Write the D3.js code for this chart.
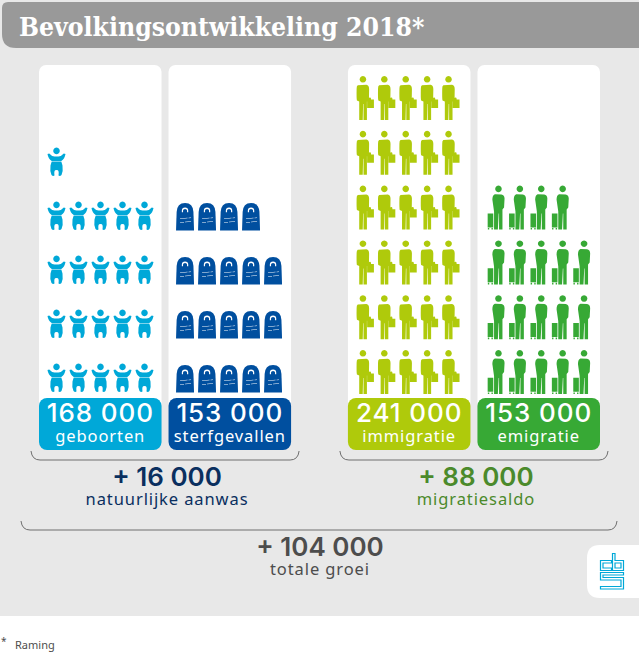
<!DOCTYPE html>
<html>
<head>
<meta charset="utf-8">
<script src="https://cdn.jsdelivr.net/npm/d3@7"></script>
<style>
	html, body { margin: 0; padding: 0; background: #fff; }
	svg { display: block; }
	text { font-family: "Noto Sans", sans-serif; text-anchor: middle; }
	.num { font-family: Inter, sans-serif; }
	.name { font-size: 16.5px; letter-spacing: 0.9px; }
</style>
</head>
<body>
<svg id="chart"></svg>
<script>
const width = 639;
const height = 655;

const titleText = 'Bevolkingsontwikkeling 2018*';
const footnote = 'Raming';

const categories = ['geboorten', 'sterfgevallen', 'immigratie', 'emigratie'];
const categoryGroups = ['natuurlijke aanwas', 'natuurlijke aanwas', 'migratiesaldo', 'migratiesaldo'];
const values = [168000, 153000, 241000, 153000];
const valueLabels = ['168 000', '153 000', '241 000', '153 000'];
const groups = ['natuurlijke aanwas', 'migratiesaldo'];
const groupLabels = ['+ 16 000', '+ 88 000'];
const totalLabel = '+ 104 000';
const totalName = 'totale groei';
const personsPerIcon = 8000;
const iconsPerRow = 5;

const colors = ['#00a8d8', '#004f9f', '#afca0b', '#37a935'];
const groupColors = ['#0a2f5f', '#4b8a2b'];

// icon shapes, drawn around the horizontal middle with y=0 on top
const babyIcon = 'M0,0.6a3.3,3.3 0 1,0 0.01,0Z'
	+ 'M-9,7L-7.3,6.6Q-5,9.3 -2,9.6L2,9.6Q5,9.3 7.3,6.6L9,7Q8.2,12 4.8,13.9L-4.8,13.9Q-8.2,12 -9,7Z'
	+ 'M-4.8,14.6L4.8,14.6L6,18.5Q6.8,24 5,28Q3.6,29.4 2,28.6Q2.6,24 1.4,23.2Q0,22.6 -1.4,23.2Q-2.6,24 -2,28.6Q-3.6,29.4 -5,28Q-6.8,24 -6,18.5Z';
const graveIcon = 'M-9,27.5L-8.4,9Q-8,0 0,0Q8,0 8.4,9L9,27.5Z';
const graveMarks = 'M-3.2,9.2V7.5Q-3.2,4.6 0,4.6Q3.2,4.6 3.2,7.5V9.2H2V7.6Q2,5.9 0,5.9Q-2,5.9 -2,7.6V9.2Z'
	+ 'M-5,15.6L2.5,14.8V15.3L-5,16.1Z M3.5,14.7L6,14.4V14.9L3.5,15.2Z'
	+ 'M-5,19.3L-1,18.9V19.4L-5,19.8Z M0,18.8L6,18.2V18.7L0,19.3Z';
const workerIcon = 'M0,0a3.3,3.3 0 1,0 0.01,0Z'
	+ 'M-5.2,9.3L3.5,8.8Q6.1,9.4 6.2,13L6,25L4,25.5V44H0.6V28H0.2L-0.2,44H-3.7V25.5L-6,24.5Q-6.5,23 -6.3,13Q-6.4,10 -5.2,9.3Z'
	+ 'M4.6,23.6H5.9V22.8Q5.9,21.4 7,21.4Q8.1,21.4 8.1,22.8V23.6H11V32H4.2V25.5Z';
const migrantIcon = 'M0,0a3.3,3.3 0 1,0 0.01,0Z'
	+ 'M-3.6,8.6L3,8.8Q6,9.4 6.1,13L5.6,22L4,24V44H0.6V28H0.2L-0.6,44H-4.4V26L-6.1,14Q-6.1,9.6 -3.6,8.6Z'
	+ 'M-10.8,27.8H-5.2V41.8H-10.8Z M-10.6,42.4H-9.2V44H-10.6Z M-7,42.4H-5.6V44H-7Z';

const icons = [
	{ shape: babyIcon, cut: null, first: 17.5, step: 22, top: 363, rowStep: 54 },
	{ shape: graveIcon, cut: graveMarks, first: 16.5, step: 22, top: 365, rowStep: 54 },
	{ shape: workerIcon, cut: null, first: 15, step: 21.4, top: 350, rowStep: 54.8 },
	{ shape: migrantIcon, cut: null, first: 21, step: 21.4, top: 350, rowStep: 54.8 }
];

const svg = d3.select('#chart')
	.attr('width', width)
	.attr('height', height)
	.attr('viewBox', `0 0 ${width} ${height}`);

// scales for the panels: two groups with two panels each
const groupScale = d3.scaleBand()
	.domain(groups)
	.range([39, 600])
	.paddingInner(0.184);

const panelScale = d3.scaleBand()
	.domain([0, 1])
	.range([0, groupScale.bandwidth()])
	.paddingInner(0.054);

const panelX = (i) => groupScale(categoryGroups[i]) + panelScale(i % 2);
const groupMiddle = (g) => groupScale(g) + groupScale.bandwidth() / 2 + 2;

const drawBackground = () => {
	svg.append('rect')
		.attr('x', 0).attr('y', 0)
		.attr('width', width).attr('height', 616)
		.attr('fill', '#e8e8e8');

	svg.append('path')
		.attr('d', `M2,8Q2,2 8,2H${width}V48H16Q2,48 2,34Z`)
		.attr('fill', '#999999');

	svg.append('text')
		.attr('x', 19).attr('y', 36)
		.style('text-anchor', 'start')
		.style('font-family', '"DejaVu Serif Condensed", "DejaVu Serif", serif')
		.style('font-weight', 700)
		.style('font-size', '26.3px')
		.attr('fill', '#fff')
		.text(titleText);

	svg.append('text')
		.attr('x', 1).attr('y', 645)
		.style('text-anchor', 'start')
		.style('font-size', '10px')
		.attr('fill', '#4d4d4d')
		.text('*');

	svg.append('text')
		.attr('x', 15).attr('y', 649)
		.style('text-anchor', 'start')
		.style('font-size', '11px')
		.attr('fill', '#4d4d4d')
		.text(footnote);
}

const drawPanels = () => {
	const panel = svg.selectAll('.panel')
		.data(categories)
		.enter()
		.append('g')
		.attr('class', 'panel')
		.attr('transform', (d, i) => `translate(${panelX(i)},0)`);

	panel.append('rect')
		.attr('y', 65)
		.attr('width', panelScale.bandwidth())
		.attr('height', 345)
		.attr('rx', 7)
		.attr('fill', '#fff');

	panel.each(function(d, i) {
		const icon = icons[i];
		const count = Math.round(values[i] / personsPerIcon);
		const xIcon = d3.scalePoint()
			.domain(d3.range(iconsPerRow))
			.range([icon.first, icon.first + icon.step * (iconsPerRow - 1)]);
		const yIcon = d3.scaleLinear()
			.domain([0, 1])
			.range([icon.top, icon.top - icon.rowStep]);

		const mark = d3.select(this).selectAll('.icon')
			.data(d3.range(count))
			.enter()
			.append('g')
			.attr('class', 'icon')
			.attr('transform', (n) => `translate(${xIcon(n % iconsPerRow)},${yIcon(Math.floor(n / iconsPerRow))})`);

		mark.append('path')
			.attr('d', icon.shape)
			.attr('fill', colors[i]);

		if (icon.cut) {
			mark.append('path')
				.attr('d', icon.cut)
				.attr('fill', '#fff');
		}
	});

	panel.append('rect')
		.attr('y', 398)
		.attr('width', panelScale.bandwidth())
		.attr('height', 52)
		.attr('rx', 8)
		.attr('fill', (d, i) => colors[i]);

	panel.append('text')
		.attr('class', 'num')
		.attr('x', panelScale.bandwidth() / 2)
		.attr('y', 422)
		.style('font-size', '26px')
		.style('font-weight', 500)
		.style('letter-spacing', '0.9px')
		.attr('fill', '#fff')
		.text((d, i) => valueLabels[i]);

	panel.append('text')
		.attr('class', 'name')
		.attr('x', panelScale.bandwidth() / 2)
		.attr('y', 442)
		.attr('fill', '#fff')
		.text((d) => d);
}

const bracket = (x0, x1, y0, y1) => {
	const p = d3.path();
	p.moveTo(x0, y0);
	p.quadraticCurveTo(x0 + 1, y1, x0 + 9, y1);
	p.lineTo(x1 - 9, y1);
	p.quadraticCurveTo(x1 - 1, y1, x1, y0);
	return p.toString();
}

const drawTotals = () => {
	const group = svg.selectAll('.group')
		.data(groups)
		.enter()
		.append('g')
		.attr('class', 'group');

	group.append('path')
		.attr('d', (d) => bracket(groupScale(d) - 8, groupScale(d) + groupScale.bandwidth() + 8, 451, 460))
		.attr('fill', 'none')
		.attr('stroke', '#6e6e6e')
		.attr('stroke-width', 1);

	group.append('text')
		.attr('class', 'num')
		.attr('x', groupMiddle)
		.attr('y', 486)
		.style('font-size', '26px')
		.style('font-weight', 600)
		.attr('fill', (d, i) => groupColors[i])
		.text((d, i) => groupLabels[i]);

	group.append('text')
		.attr('class', 'name')
		.attr('x', groupMiddle)
		.attr('y', 505)
		.attr('fill', (d, i) => groupColors[i])
		.text((d) => d);

	svg.append('path')
		.attr('d', bracket(21, 617, 521, 530))
		.attr('fill', 'none')
		.attr('stroke', '#6e6e6e')
		.attr('stroke-width', 1);

	svg.append('text')
		.attr('class', 'num')
		.attr('x', 320)
		.attr('y', 556)
		.style('font-size', '26px')
		.style('font-weight', 600)
		.attr('fill', '#4d4d4d')
		.text(totalLabel);

	svg.append('text')
		.attr('class', 'name')
		.attr('x', 320)
		.attr('y', 575)
		.attr('fill', '#4d4d4d')
		.text(totalName);
}

const drawLogo = () => {
	svg.append('path')
		.attr('d', `M${width},545H600Q587,545 587,558V585Q587,598 600,598H${width}Z`)
		.attr('fill', '#fff');

	svg.append('path')
		.attr('d', 'M611.5,560.5H600.5V570.5H611.5V568H603V563H611.5Z'
			+ 'M612.5,553.5H615V560.5H623.5V570.5H612.5Z'
			+ 'M615,563H621V568H615Z'
			+ 'M600.5,572.5H623.5V575H603V577.5H623.5V589H600.5V586.5H621V580H600.5Z')
		.attr('fill', 'none')
		.attr('stroke', '#00a8d8')
		.attr('stroke-width', 1.2);
}

drawBackground();
drawPanels();
drawTotals();
drawLogo();
</script>
</body>
</html>
